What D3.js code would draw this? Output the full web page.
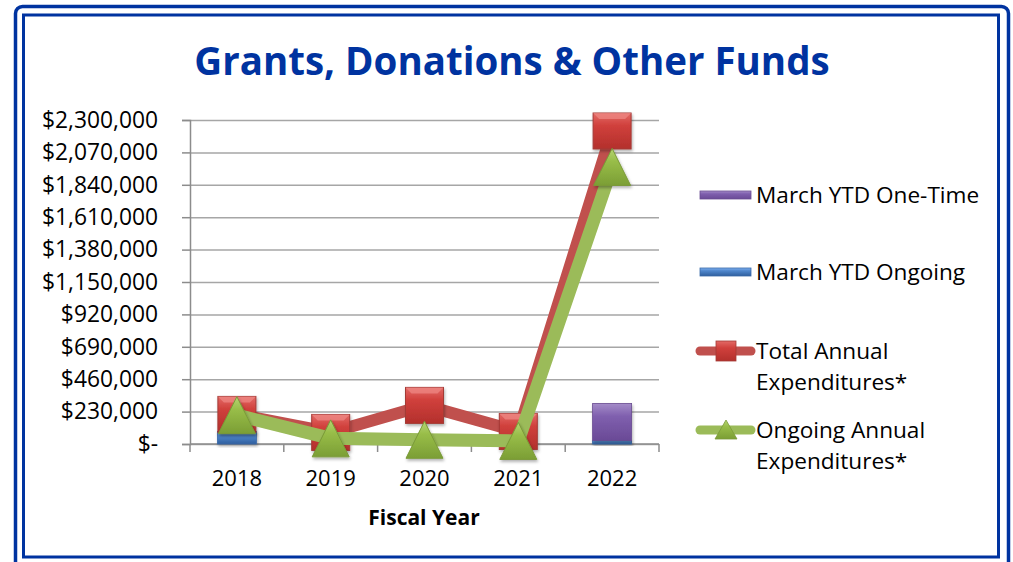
<!DOCTYPE html>
<html>
<head>
<meta charset="utf-8">
<script src="https://cdn.jsdelivr.net/npm/d3@7"></script>
<style>
  html, body { margin: 0; padding: 0; background: #fff; }
  svg { display: block; font-family: "Open Sans", sans-serif; }
</style>
</head>
<body>
<div class="chart"></div>
<script>
// data
const years = ["2018", "2019", "2020", "2021", "2022"]
const ytdOngoing = [90000, 0, 0, 0, 25000]
const ytdOneTime = [0, 0, 0, 0, 263000]
const totalAnnual = [210000, 82000, 274000, 89000, 2222000]
const ongoingAnnual = [205000, 40000, 30000, 22000, 1967000]
const yTicks = [0, 230000, 460000, 690000, 920000, 1150000, 1380000, 1610000, 1840000, 2070000, 2300000]

const W = 1013, H = 562
const margin = {left: 190, top: 120, right: 354, bottom: 118}
const width = W - margin.left - margin.right,   // 469
      height = H - margin.top - margin.bottom   // 324

const navy = "#0033a0"
const cols = {
  oneTime: "#8064a2",
  ongoing: "#4f81bd",
  total: "#c0504d",
  annual: "#9bbb59"
}

const svg = d3.select(".chart").append("svg")
  .attr("width", W).attr("height", H)

// gradients for the bevelled 3D look
const defs = svg.append("defs")
function grad(id, light, mid, dark) {
  const g = defs.append("linearGradient").attr("id", id)
    .attr("x1", 0).attr("y1", 0).attr("x2", 0).attr("y2", 1)
  g.append("stop").attr("offset", "0%").attr("stop-color", light)
  g.append("stop").attr("offset", "35%").attr("stop-color", mid)
  g.append("stop").attr("offset", "100%").attr("stop-color", dark)
}
grad("gPurple", "#a48cc8", "#7f5fae", "#6a4a96")
grad("gBlue", "#7fb0ef", "#4f86cc", "#2f5f9e")
grad("gRed", "#e36a66", "#d0403c", "#b3302c")
grad("gGreen", "#b6d574", "#98bd48", "#7b9e35")

const shadow = defs.append("filter").attr("id", "shadow")
  .attr("x", "-30%").attr("y", "-30%").attr("width", "160%").attr("height", "160%")
shadow.append("feDropShadow").attr("dx", 1).attr("dy", 2).attr("stdDeviation", 1.5)
  .attr("flood-color", "#000").attr("flood-opacity", 0.3)

// frame
svg.append("rect").attr("x", 15.5).attr("y", 6.5).attr("width", 993).attr("height", 570)
  .attr("rx", 7).attr("fill", "none").attr("stroke", navy).attr("stroke-width", 3.5)
svg.append("rect").attr("x", 23.5).attr("y", 15).attr("width", 975).attr("height", 542)
  .attr("fill", "none").attr("stroke", navy).attr("stroke-width", 3)

// title
svg.append("text").attr("x", 512).attr("y", 75)
  .attr("text-anchor", "middle")
  .style("font-size", "38.5px").style("font-weight", 700).style("fill", navy)
  .text("Grants, Donations & Other Funds")

const g = svg.append("g").attr("transform", `translate(${margin.left},${margin.top})`)

const x = d3.scaleBand().domain(years).range([0, width])
const y = d3.scaleLinear().domain([0, 2300000]).range([height, 0])

// gridlines + y axis
const fmt = d => d === 0 ? "$-" : "$" + d3.format(",")(d)
g.append("g").attr("class", "grid")
  .call(d3.axisLeft(y).tickValues(yTicks).tickSize(-width).tickFormat(""))
  .call(a => a.select(".domain").remove())
  .selectAll("line").attr("stroke", "#a6a6a6").attr("stroke-width", 1.5)

const yAxis = g.append("g")
  .call(d3.axisLeft(y).tickValues(yTicks).tickSize(8).tickPadding(24).tickFormat(fmt))
yAxis.select(".domain").attr("stroke", "#8c8c8c").attr("stroke-width", 1.5)
yAxis.selectAll("line").attr("stroke", "#8c8c8c").attr("stroke-width", 1.5)
yAxis.selectAll("text").style("font-size", "22.8px").style("fill", "#000")
  .attr("font-family", "Open Sans")

// x axis with ticks at band edges
const xAxis = g.append("g").attr("transform", `translate(0,${height})`)
xAxis.append("line").attr("x1", 0).attr("x2", width)
  .attr("stroke", "#8c8c8c").attr("stroke-width", 1.5)
xAxis.selectAll(".edge").data(d3.range(years.length + 1)).join("line")
  .attr("class", "edge")
  .attr("x1", i => i * x.step()).attr("x2", i => i * x.step())
  .attr("y1", 0).attr("y2", 8)
  .attr("stroke", "#8c8c8c").attr("stroke-width", 1.5)
xAxis.selectAll(".lbl").data(years).join("text")
  .attr("class", "lbl")
  .attr("x", d => x(d) + x.bandwidth() / 2).attr("y", 42)
  .attr("text-anchor", "middle").style("font-size", "22px")
  .text(d => d)

g.append("text").attr("x", 234).attr("y", 405)
  .attr("text-anchor", "middle").style("font-size", "21px").style("font-weight", 700)
  .text("Fiscal Year")

// stacked bars
const barW = 39
const stacked = years.map((yr, i) => ({yr, ongoing: ytdOngoing[i], oneTime: ytdOneTime[i]}))
const stack = d3.stack().keys(["ongoing", "oneTime"])(stacked)
const barFill = {ongoing: "url(#gBlue)", oneTime: "url(#gPurple)"}
const barStroke = {ongoing: "#3a6aa8", oneTime: "#6a4d92"}
g.selectAll(".series").data(stack).join("g").attr("class", "series")
  .selectAll("rect").data(s => s.map(d => ({key: s.key, d})).filter(o => o.d[1] > o.d[0]))
  .join("rect")
  .attr("x", o => x(o.d.data.yr) + x.bandwidth() / 2 - barW / 2)
  .attr("y", o => y(o.d[1]))
  .attr("width", barW)
  .attr("height", o => y(o.d[0]) - y(o.d[1]))
  .attr("fill", o => barFill[o.key])
  .attr("stroke", o => barStroke[o.key]).attr("stroke-width", 0.8)
  .attr("filter", "url(#shadow)")

const cx = d => x(d) + x.bandwidth() / 2
const line = d3.line().x(d => cx(d.yr)).y(d => y(d.v))
const pts = arr => years.map((yr, i) => ({yr, v: arr[i]}))

// total annual line + squares
g.append("path").datum(pts(totalAnnual)).attr("d", line)
  .attr("fill", "none").attr("stroke", cols.total).attr("stroke-width", 12)
  .attr("stroke-linejoin", "round")
const sqW = 38, sqH = 36
g.selectAll(".sq").data(pts(totalAnnual)).join("g").attr("class", "sq")
  .attr("transform", d => `translate(${cx(d.yr)},${y(d.v)})`)
  .call(s => {
    s.append("rect").attr("x", -sqW / 2).attr("y", -sqH / 2).attr("width", sqW).attr("height", sqH)
      .attr("fill", "url(#gRed)").attr("stroke", "#a33a36").attr("stroke-width", 1)
      .attr("filter", "url(#shadow)")
    s.append("path").attr("d", `M${-sqW/2},${-sqH/2}L${-sqW/2+6},${-sqH/2+6}L${sqW/2-6},${-sqH/2+6}L${sqW/2},${-sqH/2}Z`)
      .attr("fill", "#f08a86").attr("opacity", 0.7)
  })

// ongoing annual line + triangles
g.append("path").datum(pts(ongoingAnnual)).attr("d", line)
  .attr("fill", "none").attr("stroke", cols.annual).attr("stroke-width", 13)
  .attr("stroke-linejoin", "round")
const tw = 37, th = 37
g.selectAll(".tri").data(pts(ongoingAnnual)).join("path").attr("class", "tri")
  .attr("transform", d => `translate(${cx(d.yr)},${y(d.v)})`)
  .attr("d", `M0,${-th/2}L${tw/2},${th/2}L${-tw/2},${th/2}Z`)
  .attr("fill", "url(#gGreen)").attr("stroke", "#7a9a38").attr("stroke-width", 1)
  .attr("filter", "url(#shadow)")

// legend
const lg = svg.append("g").style("font-size", "22.6px")
const legendBars = [
  {name: "March YTD One-Time", fill: "url(#gPurple)", stroke: "#6a4d92", y: 195},
  {name: "March YTD Ongoing", fill: "url(#gBlue)", stroke: "#3a6aa8", y: 272}
]
legendBars.forEach(b => {
  lg.append("rect").attr("x", 700).attr("y", b.y - 4).attr("width", 51).attr("height", 8)
    .attr("fill", b.fill).attr("stroke", b.stroke).attr("stroke-width", 0.8)
  lg.append("text").attr("x", 756).attr("y", b.y + 8).text(b.name)
})

const legendLines = [
  {lines: ["Total Annual", "Expenditures*"], color: cols.total, y: 351, marker: "sq"},
  {lines: ["Ongoing Annual", "Expenditures*"], color: cols.annual, y: 430, marker: "tri"}
]
legendLines.forEach(l => {
  lg.append("line").attr("x1", 700).attr("x2", 751).attr("y1", l.y).attr("y2", l.y)
    .attr("stroke", l.color).attr("stroke-width", 9).attr("stroke-linecap", "round")
  if (l.marker === "sq") {
    lg.append("rect").attr("x", 716).attr("y", l.y - 10).attr("width", 20).attr("height", 20)
      .attr("fill", "url(#gRed)").attr("stroke", "#a33a36").attr("stroke-width", 0.8)
  } else {
    lg.append("path").attr("transform", `translate(726,${l.y})`)
      .attr("d", "M0,-10L11,9L-11,9Z")
      .attr("fill", "url(#gGreen)").attr("stroke", "#7a9a38").attr("stroke-width", 0.8)
  }
  l.lines.forEach((t, i) => {
    lg.append("text").attr("x", 756).attr("y", l.y + 8 + i * 31).text(t)
  })
})
</script>
</body>
</html>
